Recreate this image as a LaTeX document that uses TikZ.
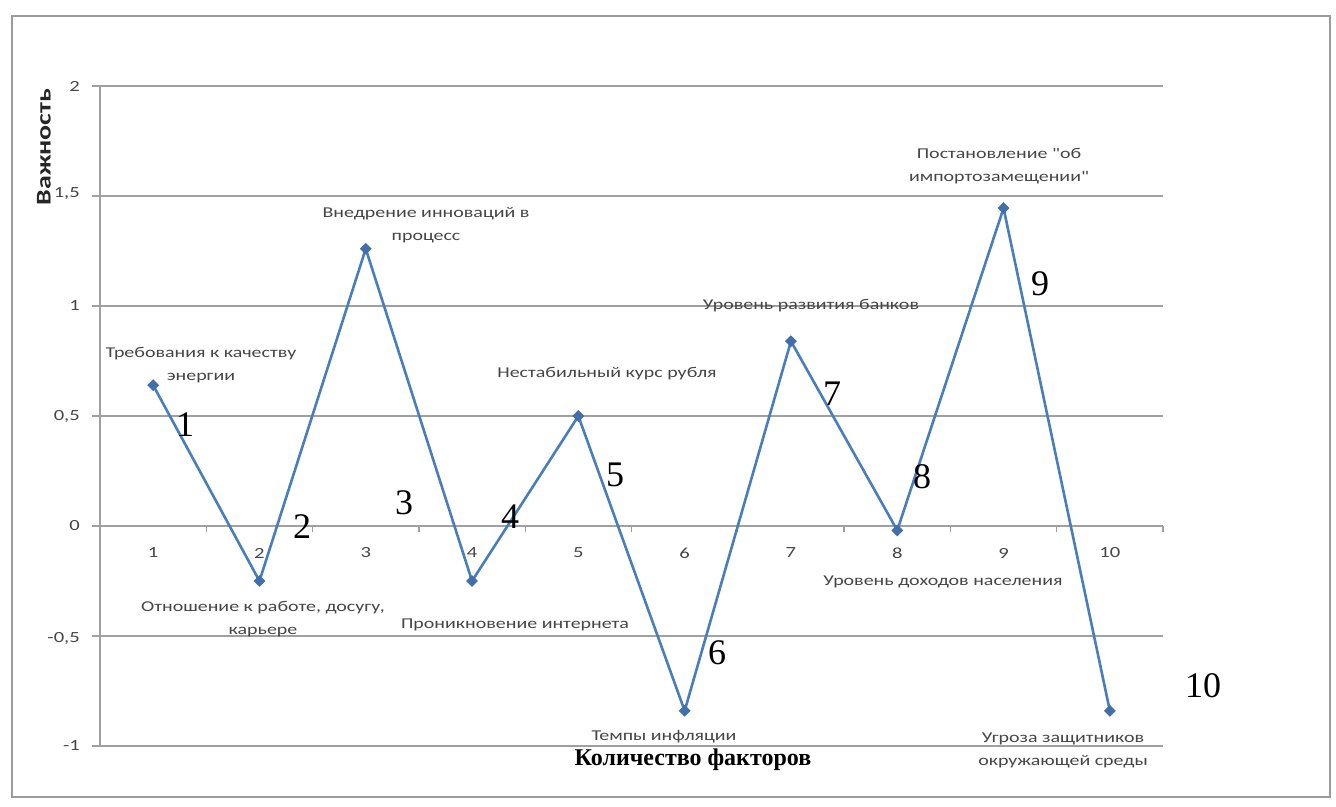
\documentclass[tikz,border=0pt]{standalone}
\usepackage{fontspec}
\setmainfont{Liberation Serif}
\newfontfamily\labfont[FakeStretch=1.33]{Carlito}
\usetikzlibrary{shapes.geometric}
\definecolor{series}{RGB}{74,126,187}
\definecolor{marker}{RGB}{66,110,172}
\definecolor{gridc}{RGB}{160,160,160}
\definecolor{framec}{RGB}{155,155,155}
\definecolor{labtext}{RGB}{70,70,70}
\tikzset{
  datalabel/.style={font=\labfont\fontsize{15}{23}\selectfont, text=labtext, align=center, inner sep=0pt},
  ticklabel/.style={font=\labfont\fontsize{15.5}{18}\selectfont, text=labtext, inner sep=0pt},
  bignum/.style={font=\fontsize{36}{38}\selectfont, inner sep=0pt},
  mk/.style={diamond, fill=marker, minimum size=12pt, inner sep=0pt},
  gridline/.style={draw=gridc, line width=1.3pt},
}
\begin{document}
\begin{tikzpicture}[x=1pt,y=-1pt]
\useasboundingbox (0,0) rectangle (1336,806);
\fill[white] (0,0) rectangle (1336,806);
% chart frame
\draw[framec, line width=2pt] (12,16) rectangle (1330,797);

% horizontal gridlines (value v sits at 526-220v)
\foreach \v in {-1,-0.5,0,0.5,1,1.5,2}
  \draw[gridline] (92,526-220*\v) -- (1163,526-220*\v);
% vertical axis and category ticks
\draw[gridline] (100,86) -- (100,746);
\foreach \k in {0,...,10}
  \draw[gridline] (100+106.3*\k,526) -- (100+106.3*\k,532);

% value axis labels
\node[ticklabel, anchor=east] (ty2)  at (80,86)  {2};
\node[ticklabel, anchor=east] (ty15) at (80,194) {1,5};
\node[ticklabel, anchor=east] (ty1)  at (80,306) {1};
\node[ticklabel, anchor=east] (ty05) at (80,416) {0,5};
\node[ticklabel, anchor=east] (ty0)  at (80,526) {0};
\node[ticklabel, anchor=east] (tym05) at (80,638) {-0,5};
\node[ticklabel, anchor=east] (tym1) at (80,746) {-1};

% category labels
\foreach \i in {1,...,10}
  \node[ticklabel] (tx\i) at (100+106.3*\i-53.15,553) {\i};

% data points
\foreach \i/\v in {1/0.64,2/-0.25,3/1.26,4/-0.25,5/0.5,6/-0.84,7/0.84,8/-0.02,9/1.445,10/-0.84}
  \coordinate (c\i) at (100+106.3*\i-53.15,526-220*\v);
\draw[series, line width=2.6pt, line join=round]
  (c1) -- (c2) -- (c3) -- (c4) -- (c5) -- (c6) -- (c7) -- (c8) -- (c9) -- (c10);
\foreach \i in {1,...,10}
  \node[mk] (m\i) at (c\i) {};

% data labels
\node[datalabel] (l1)  at (201,365) {Требования к качеству\\энергии};
\node[datalabel] (l2)  at (263,619) {Отношение к работе, досугу,\\карьере};
\node[datalabel] (l3)  at (426,225) {Внедрение инноваций в\\процесс};
\node[datalabel] (l4)  at (515,625) {Проникновение интернета};
\node[datalabel] (l5)  at (607,374) {Нестабильный курс рубля};
\node[datalabel] (l6)  at (664,737) {Темпы инфляции};
\node[datalabel] (l7)  at (811,306) {Уровень развития банков};
\node[datalabel] (l8)  at (943,582) {Уровень доходов населения};
\node[datalabel] (l9)  at (999,166) {Постановление "об\\импортозамещении"};
\node[datalabel] (l10) at (1063,750) {Угроза защитников\\окружающей среды};

% factor numbers
\node[bignum] (n1)  at (185,425) {1};
\node[bignum] (n2)  at (302,527) {2};
\node[bignum] (n3)  at (404,503) {3};
\node[bignum] (n4)  at (510,517) {4};
\node[bignum] (n5)  at (615,475) {5};
\node[bignum] (n6)  at (717,653) {6};
\node[bignum] (n7)  at (832,394) {7};
\node[bignum] (n8)  at (922,477) {8};
\node[bignum] (n9)  at (1040,284) {9};
\node[bignum] (n10) at (1203,686) {10};

% axis titles
\node[rotate=90, font=\labfont\bfseries\fontsize{21}{21}\selectfont, text=black!85] (ytitle) at (44,147) {Важность};
\node[font=\bfseries\fontsize{24}{24}\selectfont] (xtitle) at (693,760) {Количество факторов};
\end{tikzpicture}
\end{document}
